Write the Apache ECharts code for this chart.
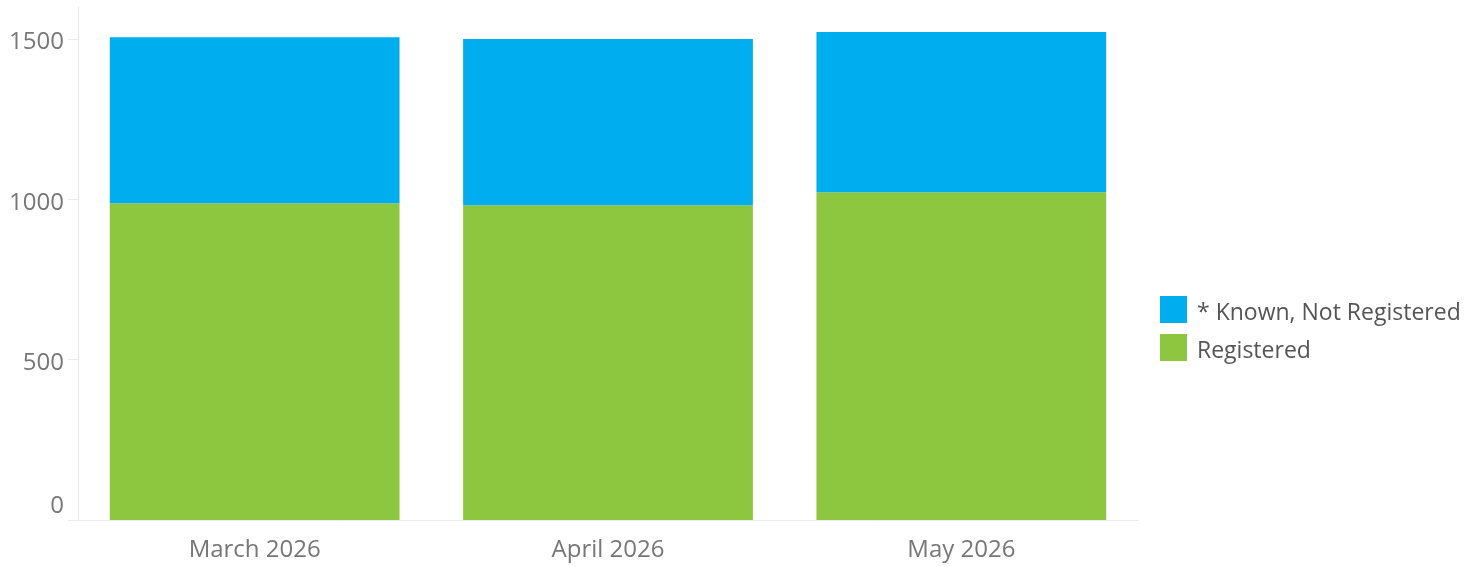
<!DOCTYPE html>
<html>
<head>
<meta charset="utf-8">
<script src="https://cdn.jsdelivr.net/npm/echarts@6/dist/echarts.min.js"></script>
<style>
  html, body { margin: 0; padding: 0; background: #fff; }
  #chart { width: 1481px; height: 567px; }
</style>
</head>
<body>
<div id="chart"></div>
<script>
// 月份
var months = ['March 2026', 'April 2026', 'May 2026'];
// 已注册
var registered = [988, 982, 1022];
// 已知但未注册
var knownNotRegistered = [518, 518, 500];
var yTicks = [0, 500, 1000, 1500];

var font = 'Open Sans';
var chart = echarts.init(document.getElementById('chart'));

var option = {
  animation: false,
  color: ['#00adee', '#8dc63f'],
  grid: {
    left: 78,
    right: 343,
    top: 7,
    bottom: 47
  },
  legend: {
    orient: 'vertical',
    left: 1160,
    top: 296,
    padding: 0,
    itemWidth: 27,
    itemHeight: 27,
    itemGap: 9,
    icon: 'rect',
    formatter: '{t|{name}}',
    textStyle: {
      color: '#555',
      fontFamily: font,
      fontSize: 23,
      rich: {
        t: { color: '#555', fontFamily: font, fontSize: 23, padding: [8, 0, 0, 5] }
      }
    },
    data: ['* Known, Not Registered', 'Registered']
  },
  xAxis: {
    type: 'category',
    data: months,
    axisLine: { lineStyle: { color: '#ebebeb', width: 1 } },
    axisTick: { length: 10, lineStyle: { color: '#ebebeb' } },
    axisLabel: { color: '#777', fontFamily: font, fontSize: 24, margin: 18 }
  },
  yAxis: {
    type: 'value',
    min: 0,
    max: 1600,
    interval: 500,
    axisLine: { show: true, lineStyle: { color: '#ebebeb', width: 1 } },
    axisTick: { show: true, length: 10, lineStyle: { color: '#ebebeb' }, customValues: yTicks },
    splitLine: { show: false },
    axisLabel: {
      color: '#777',
      fontFamily: font,
      fontSize: 24,
      margin: 14,
      customValues: yTicks,
      formatter: function (v) {
        return v === 0 ? '{z|0}' : '{n|' + v + '}';
      },
      rich: {
        n: { color: '#777', fontFamily: font, fontSize: 24, padding: [7, 0, 0, 0] },
        z: { color: '#777', fontFamily: font, fontSize: 24, padding: [0, 0, 28, 0] }
      }
    }
  },
  series: [
    {
      name: 'Registered',
      type: 'bar',
      stack: 'total',
      barCategoryGap: '18%',
      itemStyle: { color: '#8dc63f' },
      data: registered
    },
    {
      name: '* Known, Not Registered',
      type: 'bar',
      stack: 'total',
      barCategoryGap: '18%',
      itemStyle: { color: '#00adee' },
      data: knownNotRegistered
    }
  ]
};

chart.setOption(option);
window.onresize = chart.resize;
</script>
</body>
</html>
